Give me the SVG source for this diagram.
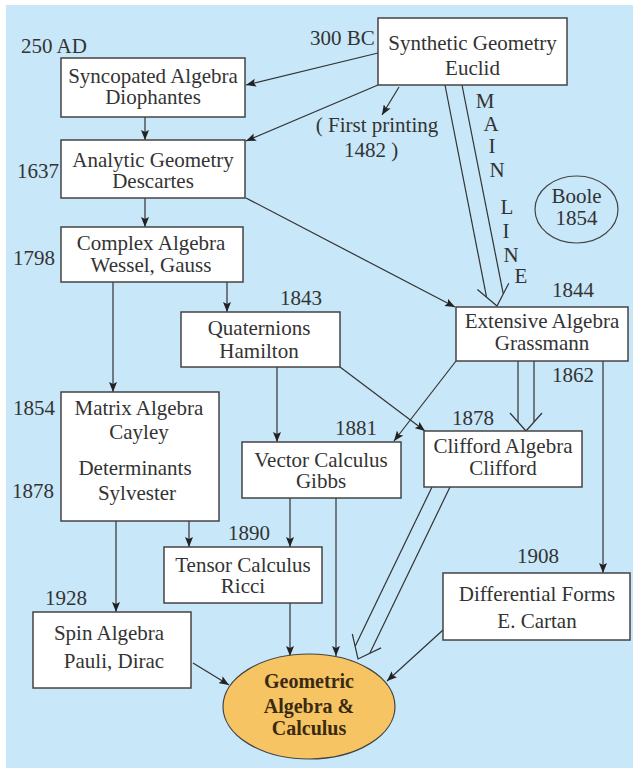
<svg xmlns="http://www.w3.org/2000/svg" width="633" height="771" viewBox="0 0 633 771">
<defs>
<style>
text{font-family:"Liberation Serif","Times New Roman",serif;font-size:21px;fill:#333;}
.c{text-anchor:middle;}
.box{fill:#fff;stroke:#444;stroke-width:1.5;}
.ln{fill:none;stroke:#333;stroke-width:1.2;}
.ar{marker-end:url(#ah);}
.geo{font-weight:bold;font-size:20px;fill:#3a2a12;}
</style>
<marker id="ah" viewBox="0 0 10 8" refX="10" refY="4" markerWidth="10" markerHeight="8" orient="auto" markerUnits="userSpaceOnUse">
<path d="M0,0 L10,4 L0,8 L2,4 z" fill="#222"/>
</marker>
</defs>
<rect x="0" y="0" width="633" height="771" fill="#fff"/>
<rect x="6" y="5" width="627" height="763" fill="#c8e7f9"/>

<g id="connectors">
<line class="ln ar" x1="378" y1="53" x2="246" y2="85"/>
<line class="ln ar" x1="378" y1="85" x2="246" y2="141"/>
<line class="ln ar" x1="399" y1="87" x2="382" y2="115"/>
<line class="ln ar" x1="145" y1="117" x2="145" y2="140"/>
<line class="ln ar" x1="145" y1="198" x2="145" y2="227"/>
<line class="ln ar" x1="227" y1="282" x2="227" y2="312"/>
<line class="ln ar" x1="113" y1="282" x2="113" y2="392"/>
<line class="ln ar" x1="246" y1="198" x2="455" y2="307"/>
<line class="ln ar" x1="277" y1="367" x2="277" y2="442"/>
<line class="ln ar" x1="340" y1="367" x2="425" y2="431"/>
<line class="ln ar" x1="456" y1="361" x2="394" y2="441"/>
<line class="ln ar" x1="603" y1="361" x2="603" y2="573"/>
<line class="ln ar" x1="189" y1="521" x2="189" y2="547"/>
<line class="ln ar" x1="290" y1="498" x2="290" y2="547"/>
<line class="ln ar" x1="116" y1="521" x2="116" y2="612"/>
<line class="ln ar" x1="290" y1="603" x2="290" y2="656"/>
<line class="ln ar" x1="336" y1="498" x2="336" y2="656"/>
<line class="ln ar" x1="193" y1="663" x2="229" y2="685"/>
<line class="ln ar" x1="443" y1="630" x2="387" y2="681"/>
<!-- main line double arrow -->
<line class="ln" x1="445" y1="85" x2="486.5" y2="296.9"/>
<line class="ln" x1="462" y1="85" x2="503.2" y2="293.6"/>
<path class="ln" d="M477.4,289.5 L497,306 L508.8,283.3"/>
<!-- Extensive to Clifford double arrow -->
<line class="ln" x1="518" y1="361" x2="518" y2="422"/>
<line class="ln" x1="534" y1="361" x2="534" y2="422"/>
<path class="ln" d="M510,413 L526,431 L542,413"/>
<!-- Clifford to Geometric double arrow -->
<line class="ln" x1="432" y1="487" x2="355.3" y2="646"/>
<line class="ln" x1="450" y1="487" x2="369.9" y2="653.1"/>
<path class="ln" d="M352.3,634 L358,659 L381.1,647.9"/>
</g>

<g id="synthetic">
<rect class="box" x="378" y="18" width="189" height="67"/>
<text class="c" x="472.5" y="50">Synthetic Geometry</text>
<text class="c" x="472.5" y="75">Euclid</text>
</g>
<g id="syncopated">
<rect class="box" x="61" y="58" width="184" height="59"/>
<text class="c" x="153" y="83">Syncopated Algebra</text>
<text class="c" x="153" y="104">Diophantes</text>
</g>
<g id="analytic">
<rect class="box" x="61" y="140" width="184" height="58"/>
<text class="c" x="153" y="167">Analytic Geometry</text>
<text class="c" x="153" y="188">Descartes</text>
</g>
<g id="complex">
<rect class="box" x="61" y="227" width="182" height="55"/>
<text class="c" x="151" y="250">Complex Algebra</text>
<text class="c" x="151" y="272">Wessel, Gauss</text>
</g>
<g id="quaternions">
<rect class="box" x="181" y="312" width="159" height="55"/>
<text class="c" x="259" y="335">Quaternions</text>
<text class="c" x="259" y="358">Hamilton</text>
</g>
<g id="extensive">
<rect class="box" x="456" y="307" width="172" height="54"/>
<text class="c" x="542" y="328">Extensive Algebra</text>
<text class="c" x="542" y="350">Grassmann</text>
</g>
<g id="matrix">
<rect class="box" x="61" y="392" width="158" height="129"/>
<text class="c" x="139" y="415">Matrix Algebra</text>
<text class="c" x="139" y="439">Cayley</text>
<text class="c" x="135" y="475">Determinants</text>
<text class="c" x="137" y="500">Sylvester</text>
</g>
<g id="vector">
<rect class="box" x="242" y="442" width="159" height="56"/>
<text class="c" x="321" y="467">Vector Calculus</text>
<text class="c" x="321" y="488">Gibbs</text>
</g>
<g id="clifford">
<rect class="box" x="424" y="431" width="158" height="56"/>
<text class="c" x="503" y="453">Clifford Algebra</text>
<text class="c" x="503" y="475">Clifford</text>
</g>
<g id="tensor">
<rect class="box" x="164" y="547" width="158" height="56"/>
<text class="c" x="243" y="572">Tensor Calculus</text>
<text class="c" x="243" y="593">Ricci</text>
</g>
<g id="spin">
<rect class="box" x="33" y="612" width="158" height="76"/>
<text class="c" x="109" y="640">Spin Algebra</text>
<text class="c" x="114" y="668">Pauli, Dirac</text>
</g>
<g id="differential">
<rect class="box" x="443" y="573" width="187" height="67"/>
<text class="c" x="537" y="601">Differential Forms</text>
<text class="c" x="537" y="628">E. Cartan</text>
</g>
<g id="geometric">
<ellipse cx="309" cy="706.5" rx="86" ry="52.5" fill="#f7c463" stroke="#444" stroke-width="1.2"/>
<text class="c geo" x="309" y="688">Geometric</text>
<text class="c geo" x="309" y="713">Algebra &amp;</text>
<text class="c geo" x="309" y="735">Calculus</text>
</g>
<g id="boole">
<ellipse cx="576.5" cy="209.5" rx="41.5" ry="33.5" fill="none" stroke="#444" stroke-width="1.2"/>
<text class="c" x="576.5" y="203">Boole</text>
<text class="c" x="576.5" y="225">1854</text>
</g>
<g id="first-printing">
<text class="c" x="377" y="132">( First printing</text>
<text class="c" x="371" y="157">1482 )</text>
</g>
<g id="main-line">
<text class="c" x="485" y="108">M</text>
<text class="c" x="491" y="131">A</text>
<text class="c" x="492" y="153">I</text>
<text class="c" x="497" y="177">N</text>
<text class="c" x="507" y="214">L</text>
<text class="c" x="506" y="238">I</text>
<text class="c" x="511" y="262">N</text>
<text class="c" x="521" y="283">E</text>
</g>
<g id="years">
<text x="21" y="53">250 AD</text>
<text x="310" y="45">300 BC</text>
<text x="17" y="178">1637</text>
<text x="13" y="265">1798</text>
<text x="280" y="305">1843</text>
<text x="552" y="297">1844</text>
<text x="13" y="415">1854</text>
<text x="12" y="498">1878</text>
<text x="335" y="435">1881</text>
<text x="452" y="425">1878</text>
<text x="552" y="382">1862</text>
<text x="228" y="540">1890</text>
<text x="45" y="605">1928</text>
<text x="517" y="563">1908</text>
</g>
</svg>
